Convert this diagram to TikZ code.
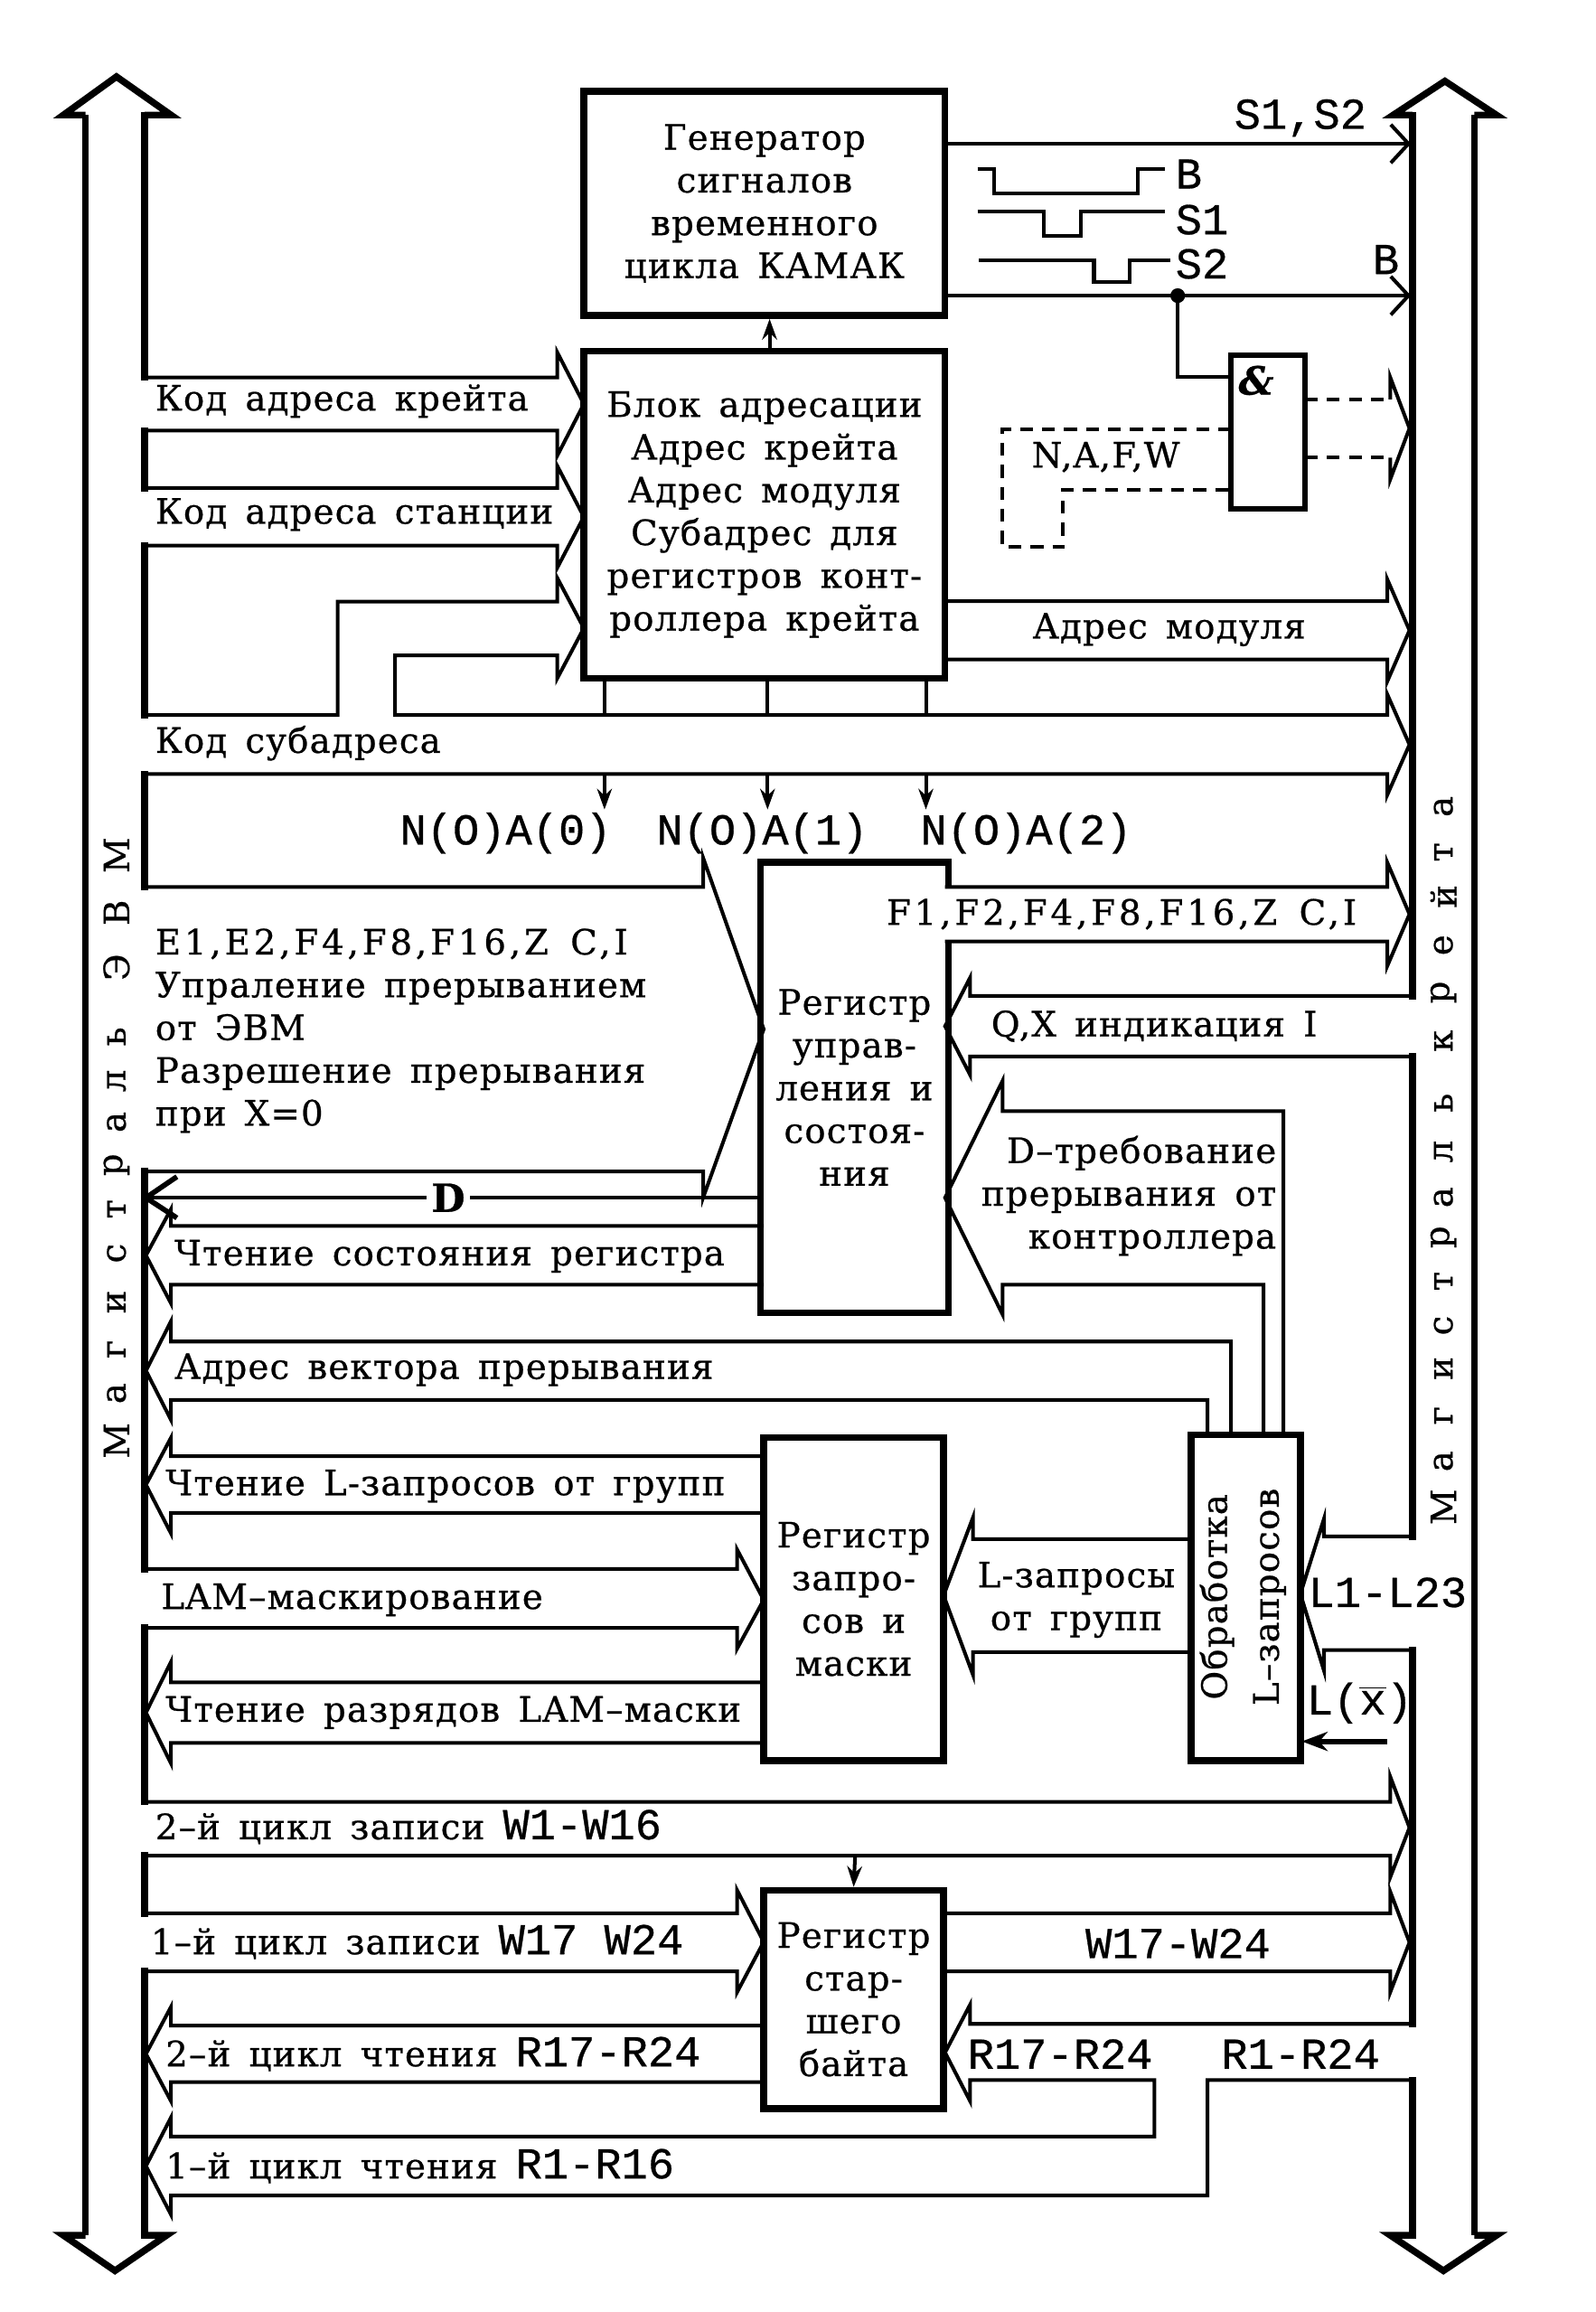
\documentclass[tikz,border=0pt]{standalone}
\usepackage{fontspec}
\setmainfont{DejaVu Serif}[LetterSpace=3,WordSpace=1.5,FakeBold=0.6]
\newfontfamily\monof{Liberation Mono}[FakeBold=0.6]
\newcommand\monotxt[1]{{\fontsize{17}{20}\monof #1}}
\usetikzlibrary{arrows.meta}
\begin{document}
\begin{tikzpicture}[x=0.2mm,y=-0.2mm,
 blockbox/.style={draw,line width=2.6pt,inner sep=0pt,align=center,font=\fontsize{13.5}{16.5}\selectfont},
 band/.style={line width=1.4pt},
 bus/.style={line width=2.6pt},
 busin/.style={line width=2.6pt,line cap=rect},
 lbl/.style={inner sep=0pt,font=\fontsize{13.5}{16.5}\selectfont},
 mlbl/.style={inner sep=0pt,font=\fontsize{17}{20}\monof},
 dsh/.style={line width=1.4pt,dash pattern=on 5pt off 3.5pt},
 smallarr/.style={-{Stealth[length=2.8mm,width=2mm]}},
 vbarb/.style={-{Straight Barb[length=2.4mm,width=5.2mm]}}]
\path[use as bounding box,fill=white] (0,0) rectangle (1082,1568);

% ---------- left bus (ЭВМ) ----------
\draw[bus] (58,1516) -- (58,78);
\draw[bus] (58,78) -- (43,78) -- (79,52) -- (116,78) -- (98,78);
\draw[bus] (58,1516) -- (43,1516) -- (78,1540) -- (113,1516) -- (98,1516);
% ---------- right bus (крейт) ----------
\draw[bus] (1000,78) -- (1000,1516);
\draw[bus] (958,78) -- (945,78) -- (980,55) -- (1015,78) -- (1000,78);
\draw[bus] (958,1516) -- (943,1516) -- (979,1540) -- (1015,1516) -- (1000,1516);

% ---------- bands starting from the left bus ----------
\draw[band] (98,78) -- (98,256) -- (378,256) -- (378,239) -- (396,274) -- (378,309) -- (378,292)
  -- (98,292) -- (98,331) -- (378,331) -- (378,316) -- (396,350.5) -- (378,385) -- (378,370)
  -- (98,370) -- (98,485) -- (229,485) -- (229,408) -- (378,408) -- (378,392) -- (396,426)
  -- (378,460) -- (378,444.5) -- (268,444.5) -- (268,485) -- (941,485) -- (941,471) -- (956,505)
  -- (941,539) -- (941,525) -- (98,525) -- (98,601.5) -- (477,601.5) -- (477,582) -- (518,698)
  -- (477,812) -- (477,794.5) -- (98,794.5) -- (98,1064) -- (500,1064) -- (500,1051) -- (518,1085)
  -- (500,1118) -- (500,1104) -- (98,1104) -- (98,1222) -- (943,1222) -- (943,1205) -- (956,1239.5)
  -- (943,1273) -- (943,1258.5) -- (98,1258.5) -- (98,1297.6) -- (500,1297.6) -- (500,1282)
  -- (518,1317) -- (500,1351) -- (500,1337) -- (98,1337) -- (98,1516);
% ---------- bands starting from the right bus ----------
\draw[band] (958,78) -- (958,675.4) -- (658,675.4) -- (658,663) -- (641,696) -- (658,729) -- (658,716.5)
  -- (958,716.5) -- (958,1042) -- (898,1042) -- (898,1030) -- (882,1081) -- (898,1133) -- (898,1119)
  -- (958,1119) -- (958,1372.6) -- (658,1372.6) -- (658,1359.5) -- (641,1392) -- (658,1425)
  -- (658,1410.7) -- (783,1410.7) -- (783,1449) -- (116,1449) -- (116,1436) -- (99,1469) -- (116,1502)
  -- (116,1489) -- (819,1489) -- (819,1410.7) -- (958,1410.7) -- (958,1516);
% thick inner bus segments
\draw[busin] (98,78)--(98,256) (98,292)--(98,331) (98,370)--(98,485) (98,525)--(98,601.5)
  (98,794.5)--(98,1064) (98,1104)--(98,1222) (98,1258.5)--(98,1297.6) (98,1337)--(98,1516);
\draw[busin] (958,78)--(958,675.4) (958,716.5)--(958,1042) (958,1119)--(958,1372.6) (958,1410.7)--(958,1516);

% ---------- reading bands into the left bus ----------
\draw[band] (518,831.4) -- (116,831.4) -- (116,820) -- (99,851.4) -- (116,884) -- (116,871.3) -- (518,871.3);
\draw[band] (835,973) -- (835,909.8) -- (116,909.8) -- (116,896) -- (99,929.6) -- (116,963) -- (116,949.4) -- (819,949.4) -- (819,973);
\draw[band] (518,987.6) -- (116,987.6) -- (116,975) -- (99,1007) -- (116,1040) -- (116,1026) -- (518,1026);
\draw[band] (518,1141) -- (116,1141) -- (116,1127) -- (99,1161.5) -- (116,1196) -- (116,1182) -- (518,1182);
\draw[band] (518,1373.8) -- (116,1373.8) -- (116,1361) -- (99,1393) -- (116,1425) -- (116,1412) -- (518,1412);
% D line
\draw[band] (518,812.3) -- (99,812.3);
\draw[line width=2pt] (120,798) -- (99,812.3) -- (120,826);
\node[inner sep=2pt,fill=white,font=\fontsize{15}{15}\bfseries\selectfont] (dl) at (304,812.3) {D};

% ---------- other bands ----------
\draw[band] (870.5,973) -- (870.5,753.5) -- (680,753.5) -- (680,733) -- (641,812.3) -- (680,891.5) -- (680,871.3) -- (857,871.3) -- (857,973);
\draw[band] (641,601.5) -- (941,601.5) -- (941,585) -- (956,620) -- (941,655) -- (941,638.5) -- (641,638.5);
\draw[band] (641,407.7) -- (941,407.7) -- (941,393) -- (956,427.5) -- (941,462) -- (941,447.3) -- (641,447.3);
\draw[band] (640,1297.6) -- (943,1297.6) -- (943,1283) -- (956,1317.3) -- (943,1351) -- (943,1337) -- (640,1337);
\draw[band] (808,1043.8) -- (660,1043.8) -- (660,1029) -- (640,1082) -- (660,1136) -- (660,1120.5) -- (808,1120.5);

% risers from the addressing block and N(O)A arrows
\draw[band] (410,460) -- (410,485) (520.6,460) -- (520.6,485) (628,460) -- (628,485);
\draw[band,smallarr] (410,525) -- (410,549);
\draw[band,smallarr] (520.6,525) -- (520.6,549);
\draw[band,smallarr] (628,525) -- (628,549);

% ---------- generator outputs ----------
\draw[band,vbarb] (641,97.5) -- (957,97.5);
\draw[band,vbarb] (641,200.5) -- (957,200.5);
\fill (798.8,200.5) circle[radius=1mm];
\draw[band] (798.8,200.5) -- (798.8,255.7) -- (835,255.7);
% waveforms
\draw[band] (663,114.7) -- (674,114.7) -- (674,131) -- (772,131) -- (772,114.7) -- (790,114.7);
\draw[band] (663,143.5) -- (708,143.5) -- (708,160) -- (733,160) -- (733,143.5) -- (790,143.5);
\draw[band] (664,176.4) -- (742,176.4) -- (742,191.3) -- (766,191.3) -- (766,176.4) -- (794,176.4);
% gate outputs (dashed)
\draw[dsh] (885,270.8) -- (943,270.8);
\draw[dsh] (885,310.4) -- (943,310.4);
\draw[band] (943,270.8) -- (943,256) -- (956,290.5) -- (943,325) -- (943,310.4);
\draw[dsh] (835,291) -- (680,291) -- (680,371) -- (721,371) -- (721,332) -- (835,332);

% ---------- boxes ----------
\node[blockbox,minimum width=49mm,minimum height=30.4mm] (gen) at (518.5,138) {Генератор\\сигналов\\временного\\цикла КАМАК};
\node[blockbox,minimum width=49mm,minimum height=44.4mm] (blk) at (518.5,349) {Блок адресации\\Адрес крейта\\Адрес модуля\\Субадрес для\\регистров конт-\\роллера крейта};
\node[blockbox,draw=none,minimum width=24.6mm,minimum height=60.2mm] (rcu) at (579.5,737.5) {Регистр\\управ-\\ления и\\состоя-\\ния};
\draw[line width=2.6pt] (rcu.east |- 0,601.5) -- (rcu.north east) -- (rcu.north west) -- (rcu.south west) -- (rcu.south east) -- (rcu.east |- 0,638.5);
\node[blockbox,minimum width=24.4mm,minimum height=43.8mm] (rzm) at (579,1084.5) {Регистр\\запро-\\сов и\\маски};
\node[blockbox,minimum width=24.4mm,minimum height=29.6mm] (rsb) at (579,1356) {Регистр\\стар-\\шего\\байта};
\node[blockbox,minimum width=14.8mm,minimum height=44.2mm] (obr) at (845,1083.5) {};
\node[lbl,rotate=90,align=center,font=\fontsize{13.5}{20}\selectfont] (obrt) at (843,1083) {Обработка\\L–запросов};
\node[blockbox,line width=2.2pt,minimum width=10mm,minimum height=20.8mm] (gate) at (860,293) {};
\node[lbl,font=\fontsize{15}{15}\bfseries\itshape\selectfont] (amp) at (852,258) {\&};

\draw[band,smallarr] ([xshift=0.7mm]blk.north) -- ([xshift=0.7mm]gen.south);
\draw[band,smallarr] (580,1258.5) -- (rsb.north);
\draw[line width=2pt,-{Stealth[length=3.5mm,width=2.6mm]}] (941,1181) -- (883,1181);

% ---------- labels ----------
\node[lbl,anchor=west] (l1) at (105,272) {Код адреса крейта};
\node[lbl,anchor=west] (l2) at (105,349) {Код адреса станции};
\node[lbl,anchor=west] (l3) at (105,504) {Код субадреса};
\node[mlbl] (n0) at (343,565) {N(O)A(0)};
\node[mlbl] (n1) at (517,565) {N(O)A(1)};
\node[mlbl] (n2) at (696,565) {N(O)A(2)};
\node[lbl,anchor=west,align=left] (e1) at (105,699) {{\addfontfeature{LetterSpace=10}E1,E2,F4,F8,F16,Z C,I}\\Упраление прерыванием\\от ЭВМ\\Разрешение прерывания\\при X=0};
\node[lbl,anchor=west] (f1) at (601,620) {\addfontfeature{LetterSpace=10}F1,F2,F4,F8,F16,Z C,I};
\node[lbl,anchor=west] (qx) at (672,696) {Q,X индикация I};
\node[lbl,anchor=east,align=right] (dt) at (866,811) {D–требование\\прерывания от\\контроллера};
\node[lbl] (am) at (793,427) {Адрес модуля};
\node[lbl] (nafw) at (750,310) {N,A,F,W};
\node[mlbl] (s12) at (882,80) {S1,S2};
\node[mlbl,anchor=west] (bw) at (797,118) {B};
\node[mlbl,anchor=west] (s1w) at (797,149) {S1};
\node[mlbl,anchor=west] (s2w) at (797,179) {S2};
\node[mlbl] (bl) at (940,176) {B};
\node[lbl,anchor=west] (r1) at (118,852) {Чтение состояния регистра};
\node[lbl,anchor=west] (r2) at (118,929) {Адрес вектора прерывания};
\node[lbl,anchor=west] (r3) at (112,1008) {Чтение L-запросов от групп};
\node[lbl,anchor=west] (r4) at (109,1085) {LAM–маскирование};
\node[lbl,anchor=west] (r5) at (112,1161.5) {Чтение разрядов LAM–маски};
\node[lbl,anchor=west] (r6) at (105,1239) {2–й цикл записи \monotxt{W1-W16}};
\node[lbl,anchor=west] (r7) at (102,1317) {1–й цикл записи \monotxt{W17 W24}};
\node[lbl,anchor=west] (r8) at (112,1393) {2–й цикл чтения \monotxt{R17-R24}};
\node[lbl,anchor=west] (r9) at (112,1469) {1–й цикл чтения \monotxt{R1-R16}};
\node[mlbl] (w17) at (799,1318) {W17-W24};
\node[mlbl,anchor=west] (r17) at (656,1393) {R17-R24};
\node[mlbl,anchor=west] (r124) at (828,1393) {R1-R24};
\node[lbl,align=center] (lz) at (730,1085) {L-запросы\\от групп};
\node[mlbl,anchor=west] (l123) at (887,1080) {L1-L23};
\node[mlbl,anchor=west] (lx) at (886,1155) {L(\ensuremath{\overline{\hbox{x}}})};

% bus names
\foreach \c/\y in {М/977,а/945,г/915,и/883,с/850,т/820,р/790,а/761,л/733,ь/703,Э/656,В/619,М/580}
  \node[lbl,rotate=90] at (79,\y) {\c};
\foreach \c/\y in {М/1022,а/991,г/960,и/928,с/899,т/869,р/839,а/812,л/781,ь/748,к/706,р/673,е/641,й/608,т/578,а/547}
  \node[lbl,rotate=90] at (979,\y) {\c};
\end{tikzpicture}
\end{document}
